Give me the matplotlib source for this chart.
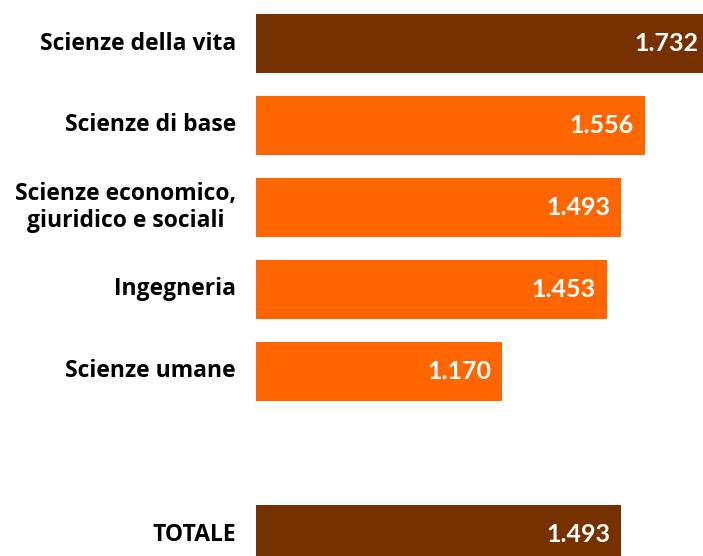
import matplotlib
matplotlib.use("Agg")
import matplotlib.pyplot as plt

# dati
categorie = ["Scienze della vita", "Scienze di base", "Scienze economico,\ngiuridico e sociali",
             "Ingegneria", "Scienze umane", "TOTALE"]
valori = [1.732, 1.556, 1.493, 1.453, 1.170, 1.493]
etichette = ["1.732", "1.556", "1.493", "1.453", "1.170", "1.493"]
posizioni = [0, 1, 2, 3, 4, 6]

marrone = "#773100"
arancio = "#FF6600"
colori = [marrone, arancio, arancio, arancio, arancio, marrone]

plt.rcParams['font.family'] = ['Open Sans', 'DejaVu Sans']

W, H = 703, 556
fig = plt.figure(figsize=(W / 100, H / 100), dpi=100)
left = 256 / W
ax = fig.add_axes([left, 0, 1 - left, 1])

x0 = 0.5
scala = 367.9  # pixel per unita'
x1 = x0 + (W - 256) / scala
ax.set_xlim(x0, x1)
ax.set_ylim((H - 43.5) / 81.9, -43.5 / 81.9)

ax.barh(posizioni, [v - x0 for v in valori], left=x0, height=0.72, color=colori)

pad = 11 / scala
for p, v, e in zip(posizioni, valori, etichette):
    ax.text(v - pad, p, e, ha="right", va="center", color="white",
            fontsize=18, fontweight="bold", family=["Lato", "DejaVu Sans"], clip_on=False)

for p, c in zip(posizioni, categorie):
    ax.text(x0 - 20 / scala, p, c, ha="right", va="center", multialignment="center",
            color="black", fontsize=16.5, fontweight="bold", linespacing=1.15, clip_on=False)

ax.axis("off")
fig.savefig("out.png", dpi=100)
